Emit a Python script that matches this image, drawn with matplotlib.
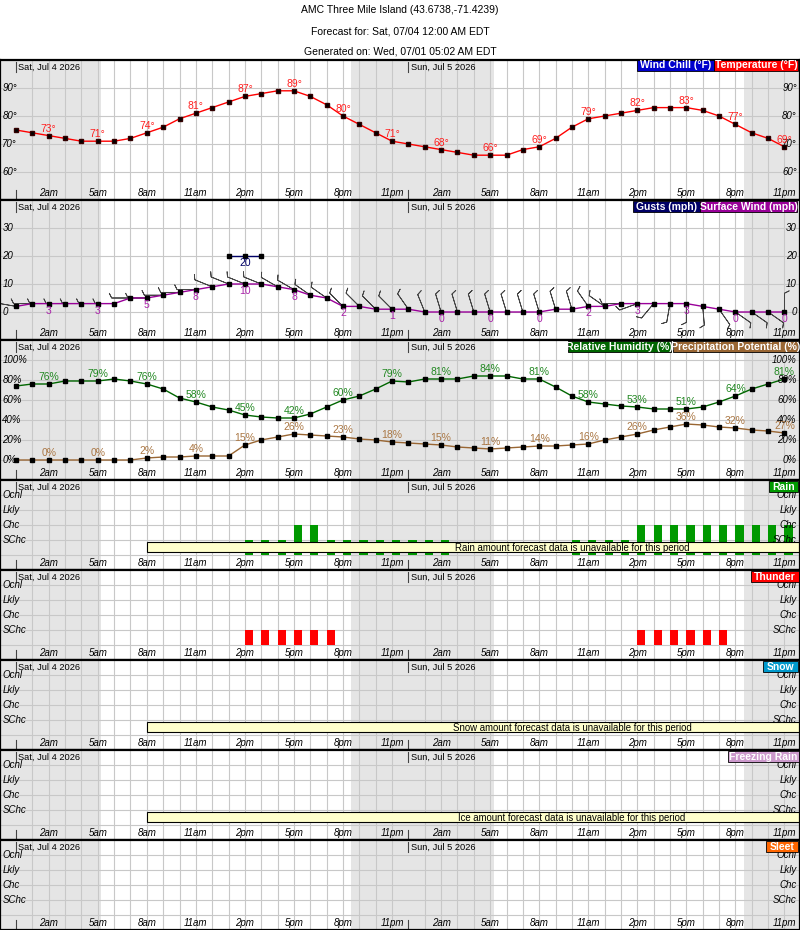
import numpy as np
import matplotlib.pyplot as plt
from matplotlib.patches import Rectangle

plt.rcParams['font.family'] = ['Liberation Sans Narrow', 'Liberation Sans', 'DejaVu Sans']

# ---------------- data (hourly, Sat 12am .. Sun 11pm) ----------------
hours = np.arange(48)
temperature = [75, 74, 73, 72, 71, 71, 71, 72, 74, 76, 79, 81, 83, 85, 87, 88,
               89, 89, 87, 84, 80, 77, 74, 71, 70, 69, 68, 67, 66, 66, 66, 68,
               69, 72, 76, 79, 80, 81, 82, 83, 83, 83, 82, 80, 77, 74, 72, 69]
wind_speed = [2, 3, 3, 3, 3, 3, 3, 5, 5, 6, 7, 8, 9, 10, 10, 10,
              9, 8, 6, 5, 2, 2, 1, 1, 1, 0, 0, 0, 0, 0, 0, 0,
              0, 1, 1, 2, 2, 3, 3, 3, 3, 3, 2, 1, 0, 0, 0, 0]
wind_dir = [280, 270, 270, 270, 270, 270, 270, 270, 270, 270, 270, 270, 292, 292, 292, 292,
            300, 300, 305, 305, 315, 315, 315, 315, 325, 338, 343, 343, 343, 343, 343, 343,
            343, 343, 343, 325, 305, 270, 250, 220, 190, 180, 175, 145, 125, 125, 125, 360]
gust_hours = [13, 14, 15]
gust_speed = [20, 20, 20]
humidity = [74, 76, 76, 79, 79, 79, 81, 79, 76, 71, 62, 58, 53, 50, 45, 43,
            42, 42, 46, 53, 60, 64, 71, 79, 78, 81, 81, 81, 84, 84, 84, 81,
            81, 73, 64, 58, 56, 54, 53, 51, 51, 51, 53, 58, 64, 71, 76, 81]
precip_pot = [0, 0, 0, 0, 0, 0, 0, 0, 2, 3, 3, 4, 4, 4, 15, 20,
              23, 26, 25, 24, 23, 21, 20, 18, 17, 16, 15, 13, 12, 11, 12, 13,
              14, 14, 15, 16, 20, 23, 26, 30, 33, 36, 35, 33, 32, 30, 29, 27]
# 0 = none, 1 = SChc, 2 = Chc, 3 = Lkly, 4 = Ocnl
rain_cat = [0, 0, 0, 0, 0, 0, 0, 0, 0, 0, 0, 0, 0, 0, 1, 1,
            1, 2, 2, 1, 1, 1, 1, 1, 1, 1, 1, 0, 0, 0, 0, 0,
            0, 0, 1, 1, 1, 1, 2, 2, 2, 2, 2, 2, 2, 2, 2, 2]
thunder_cat = [0, 0, 0, 0, 0, 0, 0, 0, 0, 0, 0, 0, 0, 0, 1, 1,
               1, 1, 1, 1, 0, 0, 0, 0, 0, 0, 0, 0, 0, 0, 0, 0,
               0, 0, 0, 0, 0, 0, 1, 1, 1, 1, 1, 1, 0, 0, 0, 0]
label_hours = list(range(2, 48, 3))
tick_labels = ['2am', '5am', '8am', '11am', '2pm', '5pm', '8pm', '11pm'] * 2
cat_labels = ['SChc', 'Chc', 'Lkly', 'Ocnl']
night = [(-1.0, 5.22), (20.5, 29.23), (44.5, 49.0)]
days = [(0, 'Sat, Jul 4 2026'), (24, 'Sun, Jul 5 2026')]

W, H = 800, 930
X0, X1 = -16 / 16.35, (W - 16) / 16.35
GRID = '#c8c8c8'

fig = plt.figure(figsize=(W / 100, H / 100), dpi=100)


def panel(top, bot, ylim, yvals, ytexts):
    hpx = bot - top
    ax = fig.add_axes([0, 1 - bot / H, 1, hpx / H])
    ax.set_xlim(X0, X1)
    ax.set_ylim(*ylim)
    ax.set_xticks([])
    ax.set_yticks([])
    for s in ax.spines.values():
        s.set_linewidth(1.6)
        s.set_zorder(10)
    for a, b in night:
        ax.axvspan(a, b, color='#e5e5e5', lw=0, zorder=0)
    for h in hours:
        if h % 24:
            ax.axvline(h, color=GRID, lw=0.8, zorder=1)
    for v in yvals:
        ax.axhline(v, color=GRID, lw=0.8, zorder=1)
    tx = ax.get_xaxis_transform()
    for d, name in days:
        ax.plot([d, d], [1 - 2 / hpx, 1 - 12 / hpx], transform=tx, color='#444444', lw=0.8)
        ax.plot([d, d], [0, 10 / hpx], transform=tx, color='#444444', lw=0.8)
        ax.text(d + 0.15, 1 - 7 / hpx, name, transform=tx, fontsize=6.7, ha='left', va='center', zorder=6)
    for h, lab in zip(label_hours, tick_labels):
        ax.text(h, 7 / hpx, lab, transform=tx, fontsize=7, style='italic', ha='center', va='center', zorder=6)
    ty = ax.get_yaxis_transform()
    for v, t in zip(yvals, ytexts):
        ax.text(0.003, v, t, transform=ty, fontsize=7, style='italic', ha='left', va='center', zorder=6)
        ax.text(0.996, v, t, transform=ty, fontsize=7, style='italic', ha='right', va='center', zorder=6)
    return ax


def legend_box(x0, x1, y0, y1, color, text):
    fig.add_artist(Rectangle((x0 / W, 1 - y1 / H), (x1 - x0) / W, (y1 - y0) / H,
                             transform=fig.transFigure, fc=color, ec='black', lw=0.6, zorder=20))
    fig.text((x0 + x1) / 2 / W, 1 - (y0 + y1) / 2 / H, text, color='white', fontweight='bold',
             fontsize=7.5, ha='center', va='center', zorder=21)


def value_labels(ax, vals, fmt, color, dy):
    for h in label_hours:
        ax.annotate(fmt.format(vals[h]), (h, vals[h]), xytext=(0, dy), textcoords='offset pixels',
                    ha='center', va='center', fontsize=7.5, color=color, zorder=7)


def banner(ax, msg):
    ax.add_patch(Rectangle((8, 0.2), 52, 0.67, fc='#ffffcc', ec='black', lw=0.8, zorder=5))
    ax.text(34, 0.45, msg, ha='center', va='center', fontsize=6.9, zorder=6)


# titles
fig.text(0.5, 1 - 10 / H, 'AMC Three Mile Island (43.6738,-71.4239)', ha='center', va='center', fontsize=7.5)
fig.text(0.5, 1 - 31 / H, 'Forecast for: Sat, 07/04 12:00 AM EDT', ha='center', va='center', fontsize=7.5)
fig.text(0.5, 1 - 51 / H, 'Generated on: Wed, 07/01 05:02 AM EDT', ha='center', va='center', fontsize=7.5)

# temperature
ax = panel(60, 200, (50, 100), [60, 70, 80, 90], ['60°', '70°', '80°', '90°'])
ax.plot(hours, temperature, color='red', lw=1, marker='s', ms=2.5, mfc='black', mec='#330000', zorder=4)
value_labels(ax, temperature, '{}°', '#ff2020', 7)
legend_box(637, 714, 60, 71, '#0000cc', 'Wind Chill (°F)')
legend_box(714, 798, 60, 71, '#ff0000', 'Temperature (°F)')

# wind
ax = panel(200, 340, (-10, 40), [0, 10, 20, 30], ['0', '10', '20', '30'])
rad = np.deg2rad(wind_dir)
u = -10 * np.sin(rad)
v = -10 * np.cos(rad)
ax.barbs(hours, wind_speed, u, v, length=5.2, lw=0.6, color='#444444', zorder=2,
         sizes=dict(height=0.25, emptybarb=0))
ax.plot(hours, wind_speed, color='#990099', lw=1, marker='s', ms=2.5, mfc='black', mec='black', zorder=4)
ax.plot(gust_hours, gust_speed, color='#000066', lw=1, marker='s', ms=2.5, mfc='black', mec='black', zorder=4)
value_labels(ax, wind_speed, '{}', '#aa22aa', -7)
ax.annotate('20', (14, 20), xytext=(0, -7), textcoords='offset pixels', ha='center', va='center',
            fontsize=7.5, color='#000066', zorder=7)
legend_box(633, 700, 201, 212, '#000066', 'Gusts (mph)')
legend_box(700, 797, 201, 212, '#990099', 'Surface Wind (mph)')

# humidity / precipitation potential
ax = panel(340, 480, (-20, 120), [0, 20, 40, 60, 80, 100], ['0%', '20%', '40%', '60%', '80%', '100%'])
ax.plot(hours, humidity, color='#006600', lw=1, marker='s', ms=2.5, mfc='black', mec='black', zorder=4)
ax.plot(hours, precip_pot, color='#996633', lw=1, marker='s', ms=2.5, mfc='black', mec='black', zorder=4)
value_labels(ax, humidity, '{}%', '#228822', 7)
value_labels(ax, precip_pot, '{}%', '#aa7744', 7)
legend_box(568, 671, 341, 352, '#006600', 'Relative Humidity (%)')
legend_box(673, 798, 341, 352, '#996633', 'Precipitation Potential (%)')

# category panels
cat_y = [1, 2, 3, 4]
ax = panel(480, 570, (-1, 5), [0] + cat_y, [''] + cat_labels)
rc = np.array(rain_cat)
ax.bar(hours[rc > 0], rc[rc > 0], width=0.5, align='edge', color='#009900', zorder=3)
banner(ax, 'Rain amount forecast data is unavailable for this period')
legend_box(769, 798, 481, 492, '#009900', 'Rain')

ax = panel(570, 660, (-1, 5), [0] + cat_y, [''] + cat_labels)
tc = np.array(thunder_cat)
ax.bar(hours[tc > 0], tc[tc > 0], width=0.5, align='edge', color='#ff0000', zorder=3)
legend_box(751, 799, 571, 582, '#ff0000', 'Thunder')

ax = panel(660, 750, (-1, 5), [0] + cat_y, [''] + cat_labels)
banner(ax, 'Snow amount forecast data is unavailable for this period')
legend_box(763, 798, 661, 672, '#0099cc', 'Snow')

ax = panel(750, 840, (-1, 5), [0] + cat_y, [''] + cat_labels)
banner(ax, 'Ice amount forecast data is unavailable for this period')
legend_box(728, 799, 751, 762, '#cc99cc', 'Freezing Rain')

ax = panel(840, 930, (-1, 5), [0] + cat_y, [''] + cat_labels)
legend_box(766, 798, 841, 852, '#ff6600', 'Sleet')

fig.savefig('out.png', dpi=100)
